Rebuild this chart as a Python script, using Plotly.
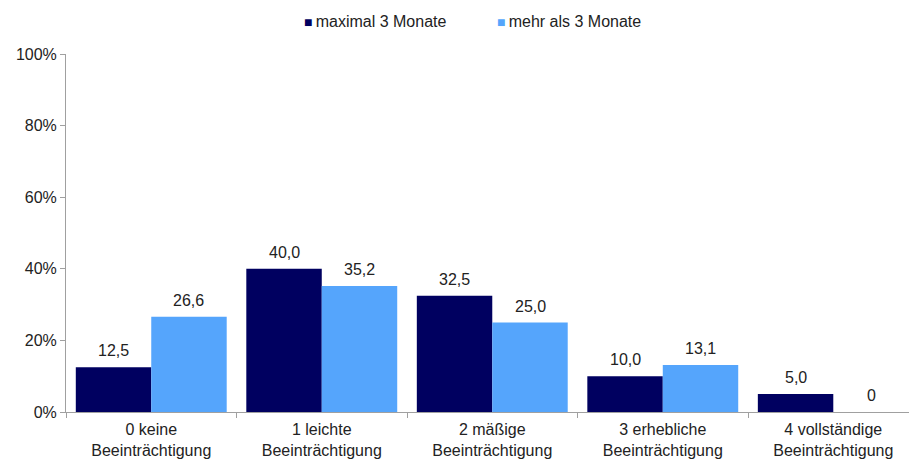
import plotly.graph_objects as go

categories = ["0 keine<br>Beeinträchtigung", "1 leichte<br>Beeinträchtigung",
              "2 mäßige<br>Beeinträchtigung", "3 erhebliche<br>Beeinträchtigung",
              "4 vollständige<br>Beeinträchtigung"]
series_names = ["maximal 3 Monate", "mehr als 3 Monate"]
max3 = [12.5, 40.0, 32.5, 10.0, 5.0]
more3 = [26.6, 35.2, 25.0, 13.1, 0.0]
colors = ["#000060", "#55A5FC"]
y_ticks = [0, 20, 40, 60, 80, 100]
y_ticktext = ["0%", "20%", "40%", "60%", "80%", "100%"]

BARGAP = 0.115
FONT = "Liberation Sans, Arial, sans-serif"
TXT = "#222222"


def fmt(v):
    return f"{v:.1f}".replace(".", ",") if v else "0"


fig = go.Figure()
series = [max3, more3]
nser = len(series)
bw = (1 - BARGAP) / nser
for k, (name, vals, col) in enumerate(zip(series_names, series, colors)):
    fig.add_trace(go.Bar(
        x=categories, y=vals, name=name, marker=dict(color=col, line=dict(width=0)),
        showlegend=False,
    ))
    off = -(1 - BARGAP) / 2 + bw * (k + 0.5)
    for i, v in enumerate(vals):
        fig.add_annotation(x=i + off, y=v, xref="x", yref="y", text=fmt(v),
                           showarrow=False, yanchor="bottom", yshift=6,
                           font=dict(size=16, color=TXT, family=FONT))

# legend drawn as text entries with coloured square glyphs
legend_x = [302 / 909, 495 / 909]
for name, col, lx in zip(series_names, colors, legend_x):
    fig.add_annotation(
        xref="paper", yref="paper", x=(lx * 909 - 66) / 843, y=1 + 33 / 358,
        xanchor="left", yanchor="middle", showarrow=False,
        text=f'<span style="font-size:14px;color:{col}">■</span>\u2009{name}',
        font=dict(size=16, color=TXT, family=FONT))

fig.update_layout(
    barmode="group", bargap=BARGAP, bargroupgap=0,
    width=909, height=459, plot_bgcolor="white", paper_bgcolor="white",
    margin=dict(l=66, r=0, t=54, b=47, autoexpand=False),
    font=dict(family=FONT, size=16, color=TXT),
    showlegend=False,
)
fig.update_xaxes(range=[-0.5, 4.444], showline=True, linecolor="#A0A0A0", linewidth=1,
                 ticks="outside", tickson="boundaries", ticklen=5, tickcolor="#A0A0A0",
                 showgrid=False, tickfont=dict(size=16), ticklabelstandoff=3)
fig.update_yaxes(range=[0, 100], tickvals=y_ticks, ticktext=y_ticktext, showline=True,
                 linecolor="#A0A0A0", linewidth=1, ticks="outside", ticklen=5,
                 tickcolor="#A0A0A0", showgrid=False, zeroline=False, tickfont=dict(size=16))

fig.write_html("out.html")
